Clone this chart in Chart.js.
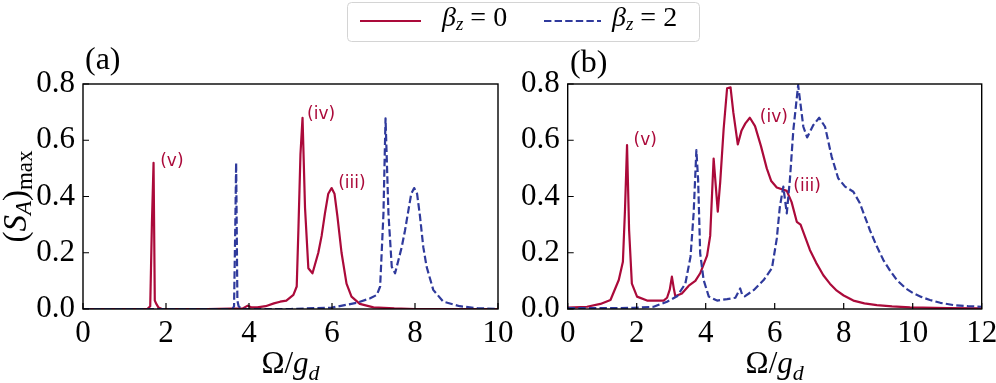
<!DOCTYPE html>
<html>
<head>
<meta charset="utf-8">
<script src="https://cdn.jsdelivr.net/npm/chart.js@4.4.0/dist/chart.umd.min.js"></script>
<style>
  html, body { margin: 0; padding: 0; background: #fff; overflow: hidden; }
  #wrap { position: relative; width: 996px; height: 383px; overflow: hidden; }
  canvas { position: absolute; top: 0; }
  #chartA { left: 0; }
  #chartB { left: 500px; }
  #legend { position: absolute; left: 0; top: 0; }
</style>
</head>
<body>
<div id="wrap">
  <canvas id="chartA" width="540" height="383"></canvas>
  <canvas id="chartB" width="520" height="383"></canvas>
  <svg id="legend" width="996" height="50" font-family="Liberation Serif, DejaVu Serif, serif">
    <rect x="347.5" y="2.5" width="352" height="39" rx="4" fill="#fff" stroke="#d4d4d4" stroke-width="1"/>
    <line x1="360" y1="21" x2="421" y2="21" stroke="#ab0a3a" stroke-width="2.2"/>
    <text x="442" y="26" font-size="28"><tspan font-style="italic">β</tspan><tspan font-style="italic" font-size="19" dy="4">z</tspan><tspan dy="-4"> = 0</tspan></text>
    <line x1="544" y1="21" x2="601" y2="21" stroke="#2f3a9c" stroke-width="2.2" stroke-dasharray="7.4 3.2"/>
    <text x="612" y="26" font-size="28"><tspan font-style="italic">β</tspan><tspan font-style="italic" font-size="19" dy="4">z</tspan><tspan dy="-4"> = 2</tspan></text>
  </svg>
</div>
<script>
const RED = '#ab0a3a';
const BLUE = '#2f3a9c';
const SERIF = '"Liberation Serif", "DejaVu Serif", serif';

// panel (a): beta_z = 0 (red) and beta_z = 2 (blue)
const aRedX = [0, 1.0, 1.55, 1.62, 1.66, 1.70, 1.73, 1.76, 1.82, 1.9, 3.0, 3.85, 3.97, 4.05, 4.2, 4.4, 4.6, 4.75, 4.9, 5.07, 5.15, 5.19, 5.24, 5.29, 5.35, 5.43, 5.53, 5.67, 5.75, 5.83, 5.91, 5.99, 6.06, 6.13, 6.23, 6.35, 6.47, 6.67, 7.0, 7.5, 8.0, 10];
const aRedY = [0, 0, 0, 0.01, 0.3, 0.52, 0.03, 0.02, 0.005, 0, 0, 0.002, 0.012, 0.006, 0.006, 0.01, 0.02, 0.026, 0.03, 0.05, 0.08, 0.28, 0.55, 0.68, 0.36, 0.145, 0.127, 0.2, 0.26, 0.34, 0.41, 0.43, 0.41, 0.33, 0.2, 0.09, 0.044, 0.018, 0.006, 0.002, 0, 0];
const aBlueX = [0, 3.0, 3.6, 3.64, 3.67, 3.69, 3.72, 3.75, 3.8, 3.9, 5.0, 6.0, 6.6, 6.92, 7.08, 7.16, 7.24, 7.29, 7.36, 7.44, 7.52, 7.68, 7.76, 7.84, 7.91, 7.98, 8.05, 8.12, 8.2, 8.28, 8.44, 8.68, 9.08, 9.5, 10];
const aBlueY = [0, 0, 0, 0.01, 0.3, 0.52, 0.03, 0.01, 0.003, 0, 0, 0.005, 0.022, 0.038, 0.05, 0.08, 0.34, 0.678, 0.34, 0.15, 0.127, 0.22, 0.28, 0.35, 0.41, 0.43, 0.41, 0.33, 0.22, 0.15, 0.068, 0.026, 0.01, 0.003, 0];

// panel (b)
const bRedX = [0, 0.56, 0.95, 1.24, 1.48, 1.60, 1.66, 1.72, 1.78, 1.86, 2.01, 2.30, 2.59, 2.78, 2.88, 2.96, 3.02, 3.08, 3.12, 3.31, 3.51, 3.70, 3.84, 4.04, 4.13, 4.23, 4.35, 4.42, 4.52, 4.62, 4.72, 4.80, 4.93, 5.04, 5.15, 5.28, 5.43, 5.60, 5.77, 5.9, 6.06, 6.35, 6.49, 6.64, 6.75, 6.9, 7.02, 7.2, 7.41, 7.6, 7.8, 8.0, 8.28, 8.6, 8.96, 9.4, 9.92, 11.0, 12];
const bRedY = [0.005, 0.008, 0.018, 0.032, 0.103, 0.168, 0.35, 0.583, 0.28, 0.09, 0.044, 0.03, 0.03, 0.03, 0.04, 0.07, 0.115, 0.07, 0.045, 0.055, 0.083, 0.10, 0.127, 0.19, 0.26, 0.535, 0.346, 0.45, 0.64, 0.785, 0.788, 0.70, 0.585, 0.635, 0.66, 0.68, 0.65, 0.58, 0.5, 0.455, 0.432, 0.42, 0.38, 0.31, 0.30, 0.25, 0.21, 0.165, 0.12, 0.09, 0.065, 0.048, 0.03, 0.02, 0.014, 0.009, 0.006, 0.003, 0.002];
const bBlueX = [0, 0.95, 1.91, 2.49, 2.88, 3.17, 3.41, 3.56, 3.65, 3.73, 3.78, 3.84, 3.94, 4.09, 4.33, 4.62, 4.86, 5.00, 5.06, 5.13, 5.39, 5.68, 5.92, 6.06, 6.15, 6.25, 6.35, 6.44, 6.54, 6.68, 6.83, 6.94, 7.12, 7.29, 7.46, 7.65, 7.84, 8.04, 8.28, 8.47, 8.76, 8.95, 9.15, 9.35, 9.54, 9.8, 10.02, 10.25, 10.5, 10.8, 11.18, 11.6, 12];
const bBlueY = [0.003, 0.003, 0.004, 0.008, 0.026, 0.045, 0.09, 0.186, 0.34, 0.565, 0.46, 0.198, 0.103, 0.044, 0.03, 0.035, 0.04, 0.073, 0.05, 0.045, 0.067, 0.103, 0.145, 0.25, 0.364, 0.435, 0.34, 0.459, 0.636, 0.796, 0.648, 0.61, 0.654, 0.68, 0.648, 0.542, 0.465, 0.435, 0.417, 0.376, 0.28, 0.225, 0.174, 0.135, 0.103, 0.073, 0.056, 0.043, 0.032, 0.022, 0.014, 0.01, 0.008];

// ticks
const xTicksA = [0, 2, 4, 6, 8, 10];
const xTicksB = [0, 2, 4, 6, 8, 10, 12];
const yTicks = [0, 0.2, 0.4, 0.6, 0.8];
const yTickLabels = ['0.0', '0.2', '0.4', '0.6', '0.8'];

// peak labels, placed in data coordinates
const annoLabels = ['(v)', '(iv)', '(iii)'];
const annoAX = [1.86, 5.40, 6.15];
const annoAY = [0.524, 0.69, 0.447];
const annoBX = [1.91, 5.57, 6.54];
const annoBY = [0.598, 0.681, 0.435];

function pts(xs, ys) {
    return xs.map((v, i) => ({ x: v, y: ys[i] }));
}

// draw a run of text pieces (italic / subscript) centred on cx
function drawMath(ctx, parts, cx, cy) {
    const fontOf = p => (p.italic ? 'italic ' : '') + p.size + 'px ' + SERIF;
    let w = 0;
    parts.forEach(p => { ctx.font = fontOf(p); w += ctx.measureText(p.t).width; });
    let xx = cx - w / 2;
    ctx.textAlign = 'left';
    ctx.textBaseline = 'alphabetic';
    parts.forEach(p => {
        ctx.font = fontOf(p);
        ctx.fillText(p.t, xx, cy + (p.dy || 0));
        xx += ctx.measureText(p.t).width;
    });
}

function panelPlugin(o) {
    return {
        id: 'panel' + o.id,
        afterDatasetsDraw(chart) {
            const ctx = chart.ctx;
            const a = chart.chartArea;
            const x = chart.scales.x, y = chart.scales.y;
            ctx.save();

            // peak labels
            ctx.fillStyle = RED;
            ctx.font = '17px "DejaVu Sans"';
            ctx.textAlign = 'left';
            ctx.textBaseline = 'middle';
            annoLabels.forEach((t, i) => {
                ctx.fillText(t, x.getPixelForValue(o.annoX[i]), y.getPixelForValue(o.annoY[i]));
            });

            // inward ticks
            ctx.strokeStyle = '#000';
            ctx.lineWidth = 1.2;
            ctx.beginPath();
            x.ticks.forEach(t => {
                const px = x.getPixelForValue(t.value);
                ctx.moveTo(px, a.bottom);
                ctx.lineTo(px, a.bottom - 6);
            });
            y.ticks.forEach(t => {
                const py = y.getPixelForValue(t.value);
                ctx.moveTo(a.left, py);
                ctx.lineTo(a.left + 6, py);
            });
            ctx.stroke();

            // frame
            ctx.lineWidth = 1.4;
            ctx.strokeRect(a.left, a.top, a.right - a.left, a.bottom - a.top);

            // panel tag
            ctx.fillStyle = '#000';
            ctx.font = '32px ' + SERIF;
            ctx.textAlign = 'left';
            ctx.textBaseline = 'alphabetic';
            ctx.fillText(o.tag, o.tagX, o.tagY);

            // x title
            drawMath(ctx, [
                { t: 'Ω/', size: 31 },
                { t: 'g', size: 31, italic: true },
                { t: 'd', size: 22, italic: true, dy: 7 }
            ], (a.left + a.right) / 2, 373);

            // y title
            if (o.yTitle) {
                ctx.translate(26, (a.top + a.bottom) / 2);
                ctx.rotate(-Math.PI / 2);
                drawMath(ctx, [
                    { t: '(', size: 33 },
                    { t: 'S', size: 33, italic: true },
                    { t: 'A', size: 23, italic: true, dy: 5 },
                    { t: ')', size: 33 },
                    { t: 'max', size: 23, dy: 6 }
                ], 0, 0);
            }
            ctx.restore();
        }
    };
}

function makeChart(o) {
    return new Chart(document.getElementById(o.canvas), {
        type: 'line',
        data: {
            datasets: [
                {
                    label: 'βz = 0',
                    data: pts(o.redX, o.redY),
                    borderColor: RED,
                    borderWidth: 2.2,
                    borderJoinStyle: 'round',
                    pointRadius: 0,
                    order: 1
                },
                {
                    label: 'βz = 2',
                    data: pts(o.blueX, o.blueY),
                    borderColor: BLUE,
                    borderWidth: 2.2,
                    borderDash: [7.4, 3.2],
                    borderJoinStyle: 'round',
                    pointRadius: 0,
                    order: 0
                }
            ]
        },
        options: {
            responsive: false,
            animation: false,
            devicePixelRatio: 1,
            layout: { padding: { top: 84, right: o.padRight, left: 0, bottom: 0 } },
            plugins: { legend: { display: false }, tooltip: { enabled: false } },
            elements: { line: { tension: 0 } },
            scales: {
                x: {
                    type: 'linear',
                    min: 0,
                    max: o.xTicks[o.xTicks.length - 1],
                    grid: { display: false, drawTicks: false },
                    border: { display: false },
                    afterBuildTicks: s => { s.ticks = o.xTicks.map(v => ({ value: v })); },
                    afterFit: s => { s.height = 74; },
                    ticks: {
                        font: { family: SERIF, size: 31 },
                        color: '#000',
                        padding: 6,
                        maxRotation: 0,
                        autoSkip: false,
                        callback: v => String(v)
                    }
                },
                y: {
                    min: 0,
                    max: 0.8,
                    grid: { display: false, drawTicks: false },
                    border: { display: false },
                    afterBuildTicks: s => { s.ticks = yTicks.map(v => ({ value: v })); },
                    afterFit: s => { s.width = o.yWidth; },
                    ticks: {
                        font: { family: SERIF, size: 31 },
                        color: '#000',
                        padding: 8,
                        autoSkip: false,
                        callback: (v, i) => yTickLabels[i]
                    }
                }
            }
        },
        plugins: [panelPlugin(o)]
    });
}

makeChart({
    id: 'A', canvas: 'chartA', tag: '(a)', tagX: 85, tagY: 69, yTitle: true,
    redX: aRedX, redY: aRedY, blueX: aBlueX, blueY: aBlueY,
    xTicks: xTicksA, annoX: annoAX, annoY: annoAY,
    yWidth: 83, padRight: 42
});
makeChart({
    id: 'B', canvas: 'chartB', tag: '(b)', tagX: 70, tagY: 72, yTitle: false,
    redX: bRedX, redY: bRedY, blueX: bBlueX, blueY: bBlueY,
    xTicks: xTicksB, annoX: annoBX, annoY: annoBY,
    yWidth: 67.7, padRight: 38.3
});
</script>
</body>
</html>
